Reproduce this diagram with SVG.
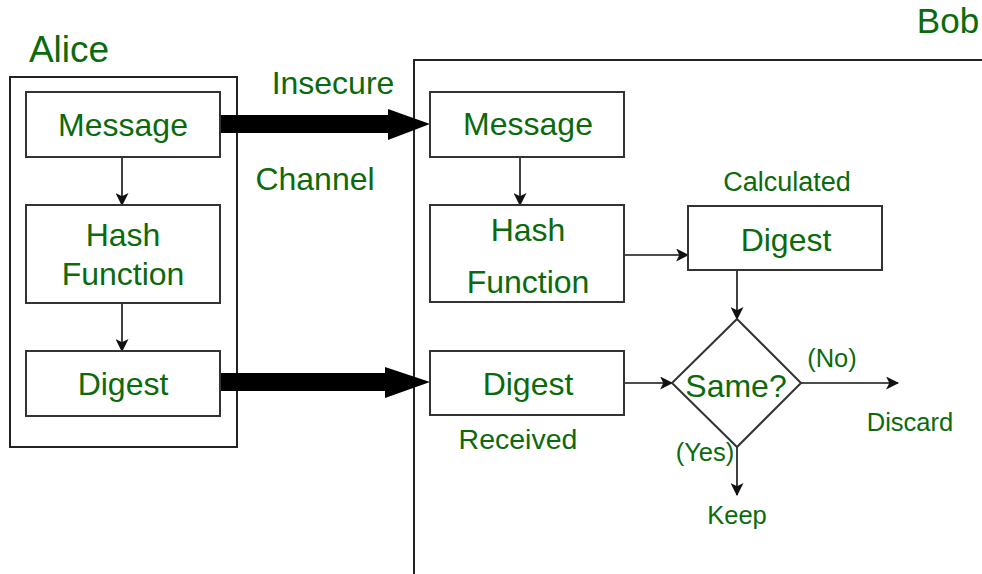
<svg xmlns="http://www.w3.org/2000/svg" width="982" height="574" viewBox="0 0 982 574">
<style>
text{font-family:"Liberation Sans",Arial,sans-serif;fill:#0b6a0b;text-anchor:middle}
.big{font-size:32px}
.mid{font-size:27px}
.sm{font-size:25.5px}
.box{fill:#fff;stroke:#333;stroke-width:2}
.frame{fill:none;stroke:#222;stroke-width:2}
.ln{fill:none;stroke:#111;stroke-width:1.6}
</style>
<defs>
<marker id="ah" viewBox="0 0 12 12" refX="11" refY="6" markerWidth="13" markerHeight="13" markerUnits="userSpaceOnUse" orient="auto">
<path d="M0,0 L12,6 L0,12 L3,6 Z" fill="#111"/>
</marker>
</defs>
<rect width="982" height="574" fill="#fff"/>
<g id="alice-frame">
<rect class="frame" x="10" y="77" width="227" height="370"/>
<text x="69" y="62" style="font-size:37px">Alice</text>
</g>
<g id="bob-frame">
<path class="frame" d="M414,574 L414,60 L984,60"/>
<text x="948" y="33" style="font-size:35px">Bob</text>
</g>
<g id="connectors">
<line class="ln" x1="122" y1="157" x2="122" y2="205" marker-end="url(#ah)"/>
<line class="ln" x1="122" y1="303" x2="122" y2="351" marker-end="url(#ah)"/>
<line class="ln" x1="520" y1="157" x2="520" y2="205" marker-end="url(#ah)"/>
<line class="ln" x1="624" y1="255" x2="688" y2="255" marker-end="url(#ah)"/>
<line class="ln" x1="737" y1="270" x2="737" y2="319" marker-end="url(#ah)"/>
<line class="ln" x1="624" y1="383" x2="672" y2="383" marker-end="url(#ah)"/>
<line class="ln" x1="801" y1="383" x2="898" y2="383" marker-end="url(#ah)"/>
<line class="ln" x1="737" y1="447" x2="737" y2="495" marker-end="url(#ah)"/>
<path d="M220,115 L388,115 L388,109 L430,124 L388,140 L388,133 L220,133 Z" fill="#000"/>
<path d="M220,373 L385,373 L385,367 L430,382 L385,398 L385,391 L220,391 Z" fill="#000"/>
</g>
<g id="a-message">
<rect class="box" x="26" y="92" width="194" height="65"/>
<text class="big" x="123" y="136">Message</text>
</g>
<g id="a-hash">
<rect class="box" x="26" y="205" width="194" height="98"/>
<text class="big" x="123" y="246">Hash</text>
<text class="big" x="123" y="285">Function</text>
</g>
<g id="a-digest">
<rect class="box" x="26" y="351" width="194" height="65"/>
<text class="big" x="123" y="395">Digest</text>
</g>
<g id="channel-label">
<text class="big" x="333" y="94">Insecure</text>
<text class="big" x="315" y="190">Channel</text>
</g>
<g id="b-message">
<rect class="box" x="430" y="92" width="194" height="65"/>
<text class="big" x="528" y="135">Message</text>
</g>
<g id="b-hash">
<rect class="box" x="430" y="205" width="194" height="97"/>
<text class="big" x="528" y="241">Hash</text>
<text class="big" x="528" y="293">Function</text>
</g>
<g id="b-calc">
<text class="mid" x="787" y="191">Calculated</text>
<rect class="box" x="688" y="206" width="194" height="64"/>
<text class="big" x="786" y="251">Digest</text>
</g>
<g id="b-received">
<rect class="box" x="430" y="351" width="194" height="64"/>
<text class="big" x="528" y="395">Digest</text>
<text x="518" y="449" style="font-size:28.5px">Received</text>
</g>
<g id="same">
<path class="box" d="M737,319 L801,383 L737,447 L672,383 Z"/>
<text class="big" x="736" y="397">Same?</text>
</g>
<g id="labels">
<text class="sm" x="832" y="367">(No)</text>
<text class="sm" x="910" y="431">Discard</text>
<text class="sm" x="705" y="461">(Yes)</text>
<text class="sm" x="737" y="524">Keep</text>
</g>
</svg>
